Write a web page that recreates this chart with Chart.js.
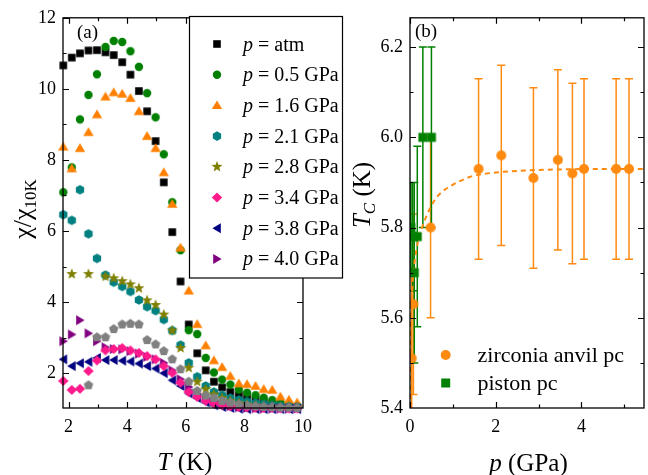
<!DOCTYPE html>
<html>
<head>
<meta charset="utf-8">
<script src="https://cdn.jsdelivr.net/npm/chart.js@4.4.1/dist/chart.umd.min.js"></script>
<style>
  html, body { margin: 0; padding: 0; background: #fff; overflow: hidden; }
  #wrap { position: relative; width: 648px; height: 475px; }
  #chartA { position: absolute; left: 0; top: 0; }
  #chartB { position: absolute; left: 350px; top: 0; }
</style>
</head>
<body>
<div id="wrap">
  <canvas id="chartA" width="350" height="475"></canvas>
  <canvas id="chartB" width="300" height="475"></canvas>
</div>
<script>
// ---- panel (a) data: chi / chi_10K vs T ----
const tempK = [1.82, 2.11, 2.39, 2.68, 2.97, 3.26, 3.54, 3.83, 4.11, 4.40, 4.68, 4.97, 5.25, 5.54, 5.82,
               6.10, 6.39, 6.68, 6.96, 7.24, 7.52, 7.81, 8.09, 8.38, 8.66, 8.95, 9.23, 9.52, 9.80];
const chiAtm = [10.66, 10.88, 11.00, 11.08, 11.09, 11.03, 10.95, 10.75, 10.40, 9.94, 9.37, 8.53, 7.37, 5.97, 4.58,
                3.37, 2.56, 2.08, 1.76, 1.60, 1.47, 1.38, 1.30, 1.24, 1.18, 1.13, 1.09, 1.06, 1.04];
const chi05 = [7.09, 7.79, 9.14, 9.83, 10.41, 11.18, 11.35, 11.32, 11.06, 10.62, 9.88, 9.20, 8.16, 6.81, 5.46,
               3.21, 3.10, 2.43, 2.02, 1.82, 1.68, 1.54, 1.45, 1.38, 1.31, 1.24, 1.17, 1.12, 1.08];
const chi16 = [8.37, 7.76, 8.33, 8.78, 9.28, 9.78, 9.90, 9.86, 9.74, 9.37, 8.67, 8.33, 7.65, 6.76, 5.53,
               4.32, 3.38, 2.78, 2.36, 2.17, 1.92, 1.71, 1.69, 1.64, 1.55, 1.53, 1.34, 1.25, 1.17];
const chi21 = [6.46, 6.30, 7.16, 5.92, 5.23, 4.76, 4.56, 4.44, 4.30, 4.06, 3.87, 3.76, 3.51, 3.20, 2.79,
               2.29, 1.90, 1.64, 1.47, 1.38, 1.30, 1.25, 1.20, 1.16, 1.13, 1.10, 1.08, 1.06, 1.05];
const chi28 = [null, 4.79, null, 4.79, null, 4.72, 4.67, 4.59, 4.50, 4.39, 4.05, 3.92, 3.65, 3.20, 2.71,
               2.15, 1.76, 1.55, 1.40, 1.30, 1.22, 1.16, 1.12, 1.09, 1.07, 1.05, 1.04, 1.03, 1.02];
const chi34 = [1.78, 1.53, 1.56, 2.06, 2.36, 2.64, 2.68, 2.71, 2.64, 2.57, 2.48, 2.39, 2.20, 2.01, 1.73,
               1.47, 1.33, 1.22, 1.15, 1.10, 1.07, 1.05, 1.04, 1.03, 1.02, 1.02, 1.01, 1.01, 1.01];
const chi38 = [2.39, 2.20, 2.28, 2.32, 2.43, 2.37, 2.37, 2.35, 2.33, 2.27, 2.20, 2.13, 2.00, 1.80, 1.64,
               1.43, 1.30, 1.18, 1.10, 1.05, 1.02, 1.00, 0.99, 0.99, 0.99, 0.99, 0.99, 0.99, 0.99];
const chi40 = [2.90, 3.09, 3.49, 3.12, 2.90, 2.73, 2.68, 2.67, 2.62, 2.55, 2.46, 2.39, 2.29, 2.08, 1.83,
               1.61, 1.41, 1.28, 1.20, 1.12, 1.07, 1.04, 1.02, 1.01, 1.00, 1.00, 1.00, 1.00, 1.00];
const chiGray = [null, null, null, 1.66, 3.01, 3.01, 3.24, 3.37, 3.39, 3.37, 2.93, 2.81, 2.62, 2.39, 2.11,
                 1.76, 1.50, 1.37, 1.30, 1.22, 1.17, 1.12, 1.09, 1.07, 1.05, 1.04, 1.03, 1.03, 1.02];
const pressureLabels = ['atm', '0.5 GPa', '1.6 GPa', '2.1 GPa', '2.8 GPa', '3.4 GPa', '3.8 GPa', '4.0 GPa'];

const aTickT = [2, 4, 6, 8, 10];
const aMinorT = [3, 5, 7, 9];
const aTickChi = [2, 4, 6, 8, 10, 12];
const aMinorChi = [3, 5, 7, 9, 11];

// ---- panel (b) data: Tc vs p ----
const zrP = [0.04, 0.08, 0.48, 1.60, 2.13, 2.88, 3.45, 3.79, 4.06, 4.81, 5.11];
const zrTc = [5.51, 5.63, 5.80, 5.93, 5.96, 5.91, 5.95, 5.92, 5.93, 5.93, 5.93];
const zrErr = [0.2, 0.2, 0.2, 0.2, 0.2, 0.2, 0.2, 0.2, 0.2, 0.2, 0.2];
const psP = [0.02, 0.06, 0.10, 0.17, 0.30, 0.50];
const psTc = [5.80, 5.78, 5.70, 5.78, 6.00, 6.00];
const psErr = [0.10, 0.12, 0.20, 0.20, 0.20, 0.20];
const fitP = [0, 0.005, 0.02, 0.05, 0.08, 0.15, 0.23, 0.3, 0.38, 0.48, 0.57, 0.72, 0.91, 1.1, 1.45, 2.0, 2.8, 3.6, 4.5, 5.46];
const fitTc = [5.40, 5.50, 5.60, 5.66, 5.70, 5.75, 5.786, 5.805, 5.825, 5.845, 5.86, 5.877, 5.89, 5.90, 5.914, 5.922, 5.927, 5.929, 5.93, 5.93];

const bTickP = [0, 2, 4];
const bMinorP = [1, 3, 5];
const bTickTc = [5.4, 5.6, 5.8, 6.0, 6.2];
const bMinorTc = [5.5, 5.7, 5.9, 6.1];

const SERIF = "'Liberation Serif', 'Times New Roman', serif";
Chart.defaults.font.family = SERIF;
Chart.defaults.font.size = 18;
Chart.defaults.color = '#000';

// marker shapes
function drawMarker(ctx, kind, cx, cy, color) {
  ctx.save();
  ctx.fillStyle = color;
  ctx.beginPath();
  if (kind === 'square') {
    ctx.rect(cx - 3.8, cy - 3.8, 7.6, 7.6);
  } else if (kind === 'circle') {
    ctx.arc(cx, cy, 4.2, 0, Math.PI * 2);
  } else if (kind === 'bigcircle') {
    ctx.arc(cx, cy, 5, 0, Math.PI * 2);
  } else if (kind === 'bigsquare') {
    ctx.rect(cx - 4.5, cy - 4.5, 9, 9);
  } else if (kind === 'up') {
    ctx.moveTo(cx, cy - 5); ctx.lineTo(cx + 5.2, cy + 3.7); ctx.lineTo(cx - 5.2, cy + 3.7);
  } else if (kind === 'left') {
    ctx.moveTo(cx - 4.6, cy); ctx.lineTo(cx + 3.8, cy - 5); ctx.lineTo(cx + 3.8, cy + 5);
  } else if (kind === 'right') {
    ctx.moveTo(cx + 4.6, cy); ctx.lineTo(cx - 3.8, cy - 5); ctx.lineTo(cx - 3.8, cy + 5);
  } else if (kind === 'diamond') {
    ctx.moveTo(cx, cy - 5); ctx.lineTo(cx + 5.2, cy); ctx.lineTo(cx, cy + 5); ctx.lineTo(cx - 5.2, cy);
  } else if (kind === 'hexagon' || kind === 'pentagon') {
    const n = kind === 'hexagon' ? 6 : 5;
    const r = kind === 'hexagon' ? 4.8 : 5;
    for (let k = 0; k < n; k++) {
      const a = -Math.PI / 2 + k * 2 * Math.PI / n;
      k === 0 ? ctx.moveTo(cx + r * Math.cos(a), cy + r * Math.sin(a)) : ctx.lineTo(cx + r * Math.cos(a), cy + r * Math.sin(a));
    }
  } else if (kind === 'star') {
    for (let k = 0; k < 10; k++) {
      const a = -Math.PI / 2 + k * Math.PI / 5;
      const r = k % 2 === 0 ? 5.8 : 2.4;
      k === 0 ? ctx.moveTo(cx + r * Math.cos(a), cy + r * Math.sin(a)) : ctx.lineTo(cx + r * Math.cos(a), cy + r * Math.sin(a));
    }
  }
  ctx.closePath();
  ctx.fill();
  ctx.restore();
}

function markerImage(kind, color) {
  const c = document.createElement('canvas');
  c.width = 16; c.height = 16;
  drawMarker(c.getContext('2d'), kind, 8, 8, color);
  return c;
}

// panel (a) series styles (gray one has no legend entry)
const seriesA = [
  { values: chiAtm, color: '#000000', shape: 'square', legend: 0 },
  { values: chi05, color: '#008000', shape: 'circle', legend: 1 },
  { values: chi16, color: '#FF8000', shape: 'up', legend: 2 },
  { values: chi21, color: '#008080', shape: 'hexagon', legend: 3 },
  { values: chi28, color: '#808000', shape: 'star', legend: 4 },
  { values: chi38, color: '#000080', shape: 'left', legend: 6 },
  { values: chi40, color: '#800080', shape: 'right', legend: 7 },
  { values: chi34, color: '#FF1A8C', shape: 'diamond', legend: 5 },
  { values: chiGray, color: '#808080', shape: 'pentagon', legend: -1 }
];

function drawTicks(ctx, chart, xs, ys, len) {
  const a = chart.chartArea;
  const sx = chart.scales.x, sy = chart.scales.y;
  ctx.beginPath();
  xs.forEach(v => {
    const px = Math.round(sx.getPixelForValue(v)) + 0.5;
    if (px < a.left || px > a.right) return;
    ctx.moveTo(px, a.bottom); ctx.lineTo(px, a.bottom - len);
    ctx.moveTo(px, a.top); ctx.lineTo(px, a.top + len);
  });
  ys.forEach(v => {
    const py = Math.round(sy.getPixelForValue(v)) + 0.5;
    if (py < a.top || py > a.bottom) return;
    ctx.moveTo(a.left, py); ctx.lineTo(a.left + len, py);
    ctx.moveTo(a.right, py); ctx.lineTo(a.right - len, py);
  });
  ctx.stroke();
}

function drawFrame(ctx, chart) {
  const a = chart.chartArea;
  ctx.save();
  ctx.strokeStyle = '#000';
  ctx.lineWidth = 1.3;
  ctx.strokeRect(a.left, a.top, a.right - a.left, a.bottom - a.top);
  ctx.lineWidth = 1.2;
  ctx.restore();
}

// draws a run of [text, font, dy] pieces, rotated or not, centered at (x, y)
function drawRich(ctx, parts, x, y, rotate) {
  ctx.save();
  ctx.translate(x, y);
  if (rotate) ctx.rotate(-Math.PI / 2);
  ctx.textBaseline = 'alphabetic';
  ctx.fillStyle = '#000';
  let w = 0;
  parts.forEach(p => { ctx.font = p[1]; w += ctx.measureText(p[0]).width; });
  let cx = -w / 2;
  parts.forEach(p => {
    ctx.font = p[1];
    ctx.fillText(p[0], cx, p[2]);
    cx += ctx.measureText(p[0]).width;
  });
  ctx.restore();
}

const panelA = {
  id: 'panelA',
  afterDraw(chart) {
    const ctx = chart.ctx;
    ctx.save();
    drawFrame(ctx, chart);
    ctx.strokeStyle = '#000';
    ctx.lineWidth = 1.2;
    drawTicks(ctx, chart, aTickT, aTickChi, 6);
    drawTicks(ctx, chart, aMinorT, aMinorChi, 3.5);

    // legend box
    ctx.fillStyle = '#fff';
    ctx.fillRect(189, 16, 154, 262);
    ctx.strokeStyle = '#000';
    ctx.lineWidth = 1.2;
    ctx.strokeRect(189.5, 16.5, 153, 261.5);
    seriesA.forEach(s => {
      if (s.legend < 0) return;
      const y = 44 + s.legend * 30.7;
      drawMarker(ctx, s.shape, 217, y, s.color);
      ctx.fillStyle = '#000';
      ctx.textBaseline = 'alphabetic';
      ctx.font = 'italic 20px ' + SERIF;
      ctx.fillText('p', 243, y + 6.5);
      const pw = ctx.measureText('p').width;
      ctx.font = '20px ' + SERIF;
      ctx.fillText(' = ' + pressureLabels[s.legend], 243 + pw, y + 6.5);
    });

    ctx.font = '19px ' + SERIF;
    ctx.fillStyle = '#000';
    ctx.fillText('(a)', 77, 38);

    drawRich(ctx, [['T', 'italic 25px ' + SERIF, 0], [' (K)', '25px ' + SERIF, 0]], 185, 470, false);
    drawRich(ctx, [['\u03C7/\u03C7', '26px ' + SERIF, 0], ['10K', '17px ' + SERIF, 5]], 31, 209, true);
    ctx.restore();
  }
};

const zrColor = '#FF8A10';
const psColor = '#008000';

function errorBars(ctx, chart, ps, vs, es, color) {
  const sx = chart.scales.x, sy = chart.scales.y;
  ctx.strokeStyle = color;
  ctx.lineWidth = 1.5;
  ctx.beginPath();
  ps.forEach((p, i) => {
    const x = sx.getPixelForValue(p);
    const y1 = sy.getPixelForValue(vs[i] + es[i]);
    const y2 = sy.getPixelForValue(vs[i] - es[i]);
    ctx.moveTo(x, y1); ctx.lineTo(x, y2);
    ctx.moveTo(x - 4, y1); ctx.lineTo(x + 4, y1);
    ctx.moveTo(x - 4, y2); ctx.lineTo(x + 4, y2);
  });
  ctx.stroke();
}

const panelB = {
  id: 'panelB',
  beforeDatasetsDraw(chart) {
    const ctx = chart.ctx;
    const a = chart.chartArea;
    ctx.save();
    ctx.beginPath();
    ctx.rect(a.left, a.top, a.right - a.left, a.bottom - a.top);
    ctx.clip();
    errorBars(ctx, chart, zrP, zrTc, zrErr, zrColor);
    errorBars(ctx, chart, psP, psTc, psErr, psColor);
    ctx.restore();
  },
  afterDraw(chart) {
    const ctx = chart.ctx;
    ctx.save();
    drawFrame(ctx, chart);
    ctx.strokeStyle = '#000';
    ctx.lineWidth = 1.2;
    drawTicks(ctx, chart, bTickP, bTickTc, 6);
    drawTicks(ctx, chart, bMinorP, bMinorTc, 3.5);

    ctx.fillStyle = '#000';
    ctx.font = '19px ' + SERIF;
    ctx.textBaseline = 'alphabetic';
    ctx.fillText('(b)', 65, 37);

    drawMarker(ctx, 'bigcircle', 95.7, 355, zrColor);
    drawMarker(ctx, 'bigsquare', 95.7, 383, psColor);
    ctx.fillStyle = '#000';
    ctx.font = '22px ' + SERIF;
    ctx.fillText('zirconia anvil pc', 127.5, 362);
    ctx.fillText('piston pc', 127.5, 390);

    drawRich(ctx, [['p', 'italic 25px ' + SERIF, 0], [' (GPa)', '25px ' + SERIF, 0]], 178.5, 471, false);
    drawRich(ctx, [['T', 'italic 25px ' + SERIF, 0], ['C', 'italic 17px ' + SERIF, 5], [' (K)', '25px ' + SERIF, 0]], 20, 195, true);
    ctx.restore();
  }
};

const axisCommon = {
  type: 'linear',
  grid: { display: false, drawTicks: false },
  border: { display: false }
};

// panel (a)
new Chart(document.getElementById('chartA').getContext('2d'), {
  type: 'scatter',
  data: {
    datasets: seriesA.map((s, i) => ({
      data: tempK.map((t, j) => s.values[j] == null ? null : { x: t, y: s.values[j] }).filter(d => d),
      pointStyle: markerImage(s.shape, s.color),
      pointRadius: 5,
      showLine: false,
      order: seriesA.length - i,
      clip: false
    }))
  },
  options: {
    responsive: false,
    animation: false,
    layout: { padding: { left: 0, top: 15, right: 47, bottom: 0 } },
    plugins: { legend: { display: false }, tooltip: { enabled: false } },
    scales: {
      x: Object.assign({}, axisCommon, {
        min: 1.81, max: 10,
        afterBuildTicks: sc => { sc.ticks = aTickT.map(v => ({ value: v })); },
        afterFit: sc => { sc.height = 67; },
        ticks: { padding: 8, maxRotation: 0, callback: v => String(v) }
      }),
      y: Object.assign({}, axisCommon, {
        min: 1.02, max: 12,
        afterBuildTicks: sc => { sc.ticks = aTickChi.map(v => ({ value: v })); },
        afterFit: sc => { sc.width = 63; },
        ticks: { padding: 7, callback: v => String(v) }
      })
    }
  },
  plugins: [panelA]
});

// panel (b)
new Chart(document.getElementById('chartB').getContext('2d'), {
  type: 'scatter',
  data: {
    datasets: [
      {
        data: fitP.map((p, i) => ({ x: p, y: fitTc[i] })),
        showLine: true,
        borderColor: zrColor,
        borderWidth: 2,
        borderDash: [5, 4],
        pointRadius: 0,
        cubicInterpolationMode: 'monotone',
        order: 3
      },
      {
        data: zrP.map((p, i) => ({ x: p, y: zrTc[i] })),
        pointStyle: markerImage('bigcircle', zrColor),
        pointRadius: 5,
        order: 2
      },
      {
        data: psP.map((p, i) => ({ x: p, y: psTc[i] })),
        pointStyle: markerImage('bigsquare', psColor),
        pointRadius: 5,
        order: 1
      }
    ]
  },
  options: {
    responsive: false,
    animation: false,
    layout: { padding: { left: 0, top: 16, right: 1, bottom: 0 } },
    plugins: { legend: { display: false }, tooltip: { enabled: false } },
    scales: {
      x: Object.assign({}, axisCommon, {
        min: 0, max: 5.46,
        afterBuildTicks: sc => { sc.ticks = bTickP.map(v => ({ value: v })); },
        afterFit: sc => { sc.height = 67; },
        ticks: { padding: 8, maxRotation: 0, callback: v => String(v) }
      }),
      y: Object.assign({}, axisCommon, {
        min: 5.4, max: 6.265,
        afterBuildTicks: sc => { sc.ticks = bTickTc.map(v => ({ value: v })); },
        afterFit: sc => { sc.width = 60; },
        ticks: { padding: 7, callback: v => v.toFixed(1) }
      })
    }
  },
  plugins: [panelB]
});
</script>
</body>
</html>
